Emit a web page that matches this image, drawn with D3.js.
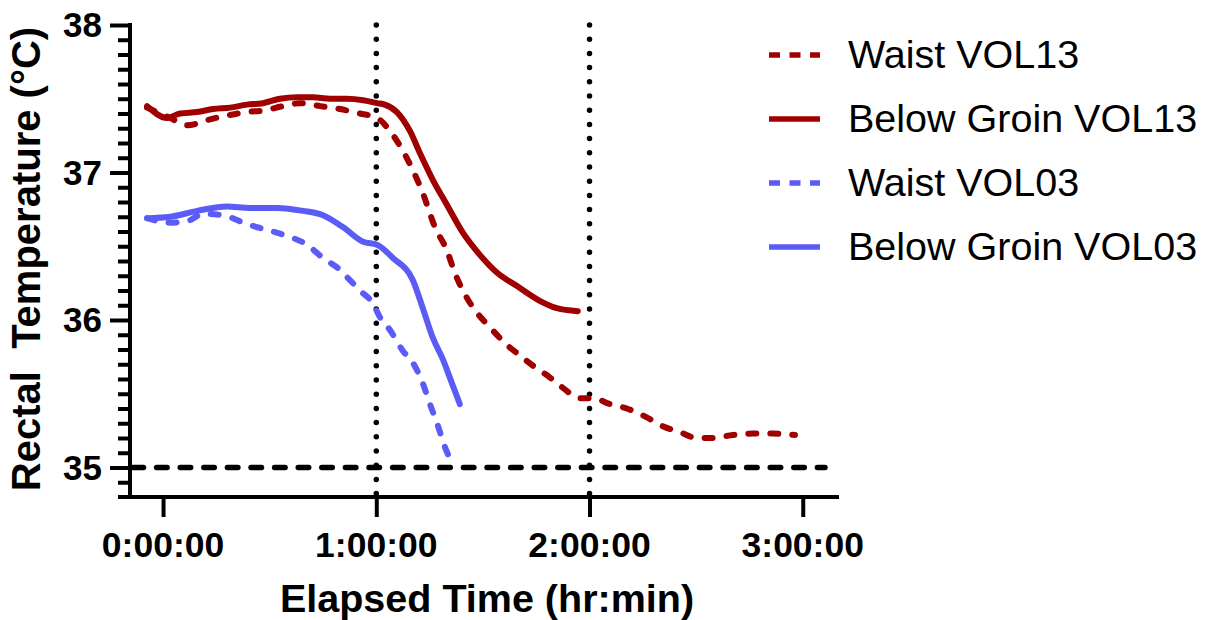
<!DOCTYPE html>
<html>
<head>
<meta charset="utf-8">
<script src="https://cdn.jsdelivr.net/npm/d3@7"></script>
<style>
  body { margin: 0; background: #fff; }
  text { font-family: "Liberation Sans", Arial, sans-serif; }
</style>
</head>
<body>
<div id="chart"></div>
<script>
'use strict'

var width = 1208
var height = 620

// elapsed time in minutes, rectal temperature in °C
var waist13Time = [-4.5, 2.0, 6.8, 13.2, 18.8, 23.6, 28.1, 33.8, 38.5, 44.2, 49.8, 55.4, 60.2, 63.9, 66.7, 70.0, 73.1, 76.5, 79.9, 82.1, 85.5, 88.3, 92.0, 96.8, 100.4, 104.1, 108.9, 112.5, 117.3, 121.0, 125.7, 130.5, 136.1, 140.6, 145.4, 150.2, 154.7, 160.3, 166.0, 171.6, 177.8]
var waist13Temp = [37.44, 37.37, 37.32, 37.36, 37.39, 37.41, 37.42, 37.45, 37.47, 37.45, 37.43, 37.40, 37.37, 37.28, 37.18, 37.03, 36.86, 36.63, 36.47, 36.32, 36.15, 36.05, 35.95, 35.83, 35.76, 35.69, 35.61, 35.54, 35.47, 35.47, 35.43, 35.40, 35.34, 35.28, 35.24, 35.20, 35.20, 35.22, 35.23, 35.23, 35.22]

var groin13Time = [-4.5, 1.1, 4.8, 9.6, 14.1, 18.9, 23.6, 28.1, 32.9, 37.7, 42.2, 47.0, 51.7, 56.3, 60.2, 62.4, 65.8, 69.5, 72.3, 75.9, 79.9, 84.4, 89.2, 94.0, 99.6, 106.0, 110.8, 116.7]
var groin13Temp = [37.45, 37.37, 37.40, 37.41, 37.43, 37.44, 37.46, 37.47, 37.50, 37.51, 37.51, 37.50, 37.50, 37.49, 37.47, 37.46, 37.41, 37.28, 37.13, 36.95, 36.78, 36.59, 36.44, 36.32, 36.23, 36.13, 36.08, 36.06]

var waist03Time = [-4.5, 2.0, 6.8, 11.3, 16.9, 23.6, 29.3, 34.9, 40.5, 45.0, 49.8, 51.8, 55.4, 59.1, 61.0, 63.9, 67.5, 70.3, 73.1, 75.1, 77.1, 79.3, 81.3]
var waist03Temp = [36.69, 36.66, 36.67, 36.72, 36.71, 36.65, 36.61, 36.57, 36.51, 36.42, 36.34, 36.29, 36.20, 36.11, 36.02, 35.93, 35.79, 35.71, 35.57, 35.43, 35.30, 35.14, 35.03]

var groin03Time = [-4.5, 2.0, 9.6, 18.0, 24.5, 32.1, 39.4, 45.0, 50.6, 56.3, 60.2, 64.7, 70.3, 73.1, 75.9, 78.8, 81.3, 83.5]
var groin03Temp = [36.69, 36.70, 36.74, 36.77, 36.76, 36.76, 36.74, 36.71, 36.63, 36.53, 36.51, 36.42, 36.27, 36.08, 35.88, 35.73, 35.57, 35.43]

var seriesNames = ['Waist VOL13', 'Below Groin VOL13', 'Waist VOL03', 'Below Groin VOL03']
var xTicks = [0, 60, 120, 180]
var xTickLabels = ['0:00:00', '1:00:00', '2:00:00', '3:00:00']
var yTicks = [35, 36, 37, 38]
var markerTimes = [60, 120]
var thresholdTemp = 35

var red = '#a00000'
var blue = '#5b5bf5'
var waistDash = '8,14'

var series = [
  { name: seriesNames[0], time: waist13Time, temp: waist13Temp, color: red, dash: waistDash },
  { name: seriesNames[1], time: groin13Time, temp: groin13Temp, color: red, dash: null },
  { name: seriesNames[2], time: waist03Time, temp: waist03Temp, color: blue, dash: waistDash },
  { name: seriesNames[3], time: groin03Time, temp: groin03Temp, color: blue, dash: null }
]

var x = d3.scaleLinear().domain([-9.3, 190.2]).range([130, 839])
var y = d3.scaleLinear().domain([34.8, 38]).range([497, 25])

var svg = d3.select('#chart').append('svg')
  .attr('width', width)
  .attr('height', height)

// reference lines
svg.selectAll('line.marker')
  .data(markerTimes)
  .join('line')
  .attr('class', 'marker')
  .attr('x1', d => x(d)).attr('x2', d => x(d))
  .attr('y1', y(38)).attr('y2', y(34.8))
  .attr('stroke', '#000')
  .attr('stroke-width', 5.5)
  .attr('stroke-linecap', 'round')
  .attr('stroke-dasharray', '0,14.2')

svg.append('line')
  .attr('x1', x.range()[0] + 3).attr('x2', 825)
  .attr('y1', y(thresholdTemp)).attr('y2', y(thresholdTemp))
  .attr('stroke', '#000')
  .attr('stroke-width', 5.5)
  .attr('stroke-linecap', 'round')
  .attr('stroke-dasharray', '10.5,13.1')

// data lines
var line = d3.line()
  .x(d => x(d[0]))
  .y(d => y(d[1]))
  .curve(d3.curveMonotoneX)

svg.selectAll('path.series')
  .data(series)
  .join('path')
  .attr('class', 'series')
  .attr('d', s => line(d3.zip(s.time, s.temp)))
  .attr('fill', 'none')
  .attr('stroke', s => s.color)
  .attr('stroke-width', 6)
  .attr('stroke-linecap', 'round')
  .attr('stroke-linejoin', 'round')
  .attr('stroke-dasharray', s => s.dash)

// y axis, minor ticks every 0.1
var yAxis = d3.axisLeft(y)
  .tickValues(d3.range(349, 381).map(d => d / 10))
  .tickSize(12)
  .tickFormat('')
var yAxisG = svg.append('g').attr('transform', 'translate(130,0)').call(yAxis)
yAxisG.selectAll('.tick line')
  .filter(d => yTicks.indexOf(Math.round(d * 10) / 10) >= 0)
  .attr('x2', -20)
yAxisG.selectAll('.tick line').attr('stroke-width', 4)
yAxisG.select('.domain').remove()
svg.append('line')
  .attr('x1', 130).attr('x2', 130)
  .attr('y1', y(38) - 2).attr('y2', y(34.8) + 2)
  .attr('stroke', '#000').attr('stroke-width', 4)

svg.selectAll('text.ylab')
  .data(yTicks)
  .join('text')
  .attr('class', 'ylab')
  .attr('x', 102)
  .attr('y', d => y(d) + 12)
  .attr('text-anchor', 'end')
  .attr('font-size', 35)
  .attr('font-weight', 'bold')
  .text(d => d)

// x axis
var xAxis = d3.axisBottom(x).tickValues(xTicks).tickSize(20).tickFormat('')
var xAxisG = svg.append('g').attr('transform', 'translate(0,' + y(34.8) + ')').call(xAxis)
xAxisG.select('.domain').remove()
xAxisG.selectAll('.tick line').attr('stroke-width', 4)
svg.append('line')
  .attr('x1', 118).attr('x2', 839)
  .attr('y1', y(34.8)).attr('y2', y(34.8))
  .attr('stroke', '#000').attr('stroke-width', 4)

svg.selectAll('text.xlab')
  .data(xTicks)
  .join('text')
  .attr('class', 'xlab')
  .attr('x', d => x(d))
  .attr('y', 557)
  .attr('text-anchor', 'middle')
  .attr('font-size', 35.5)
  .attr('font-weight', 'bold')
  .text((d, i) => xTickLabels[i])

// axis titles
svg.append('text')
  .attr('x', 487)
  .attr('y', 612)
  .attr('text-anchor', 'middle')
  .attr('font-size', 39.5)
  .attr('font-weight', 'bold')
  .text('Elapsed Time (hr:min)')

svg.append('text')
  .attr('transform', 'translate(40,259) rotate(-90)')
  .attr('text-anchor', 'middle')
  .attr('font-size', 40)
  .attr('font-weight', 'bold')
  .style('white-space', 'pre')
  .text('Rectal  Temperature (°C)')

// legend
var legend = svg.selectAll('g.legend')
  .data(series)
  .join('g')
  .attr('class', 'legend')
  .attr('transform', (d, i) => 'translate(768,' + (55 + i * 64) + ')')

legend.append('line')
  .attr('x1', 1).attr('x2', 52)
  .attr('stroke', d => d.color)
  .attr('stroke-width', 5.5)
  .attr('stroke-dasharray', d => d.dash ? '11,9.5' : null)

legend.append('text')
  .attr('x', 80)
  .attr('y', 13)
  .attr('font-size', 39.5)
  .text(d => d.name)
</script>
</body>
</html>
